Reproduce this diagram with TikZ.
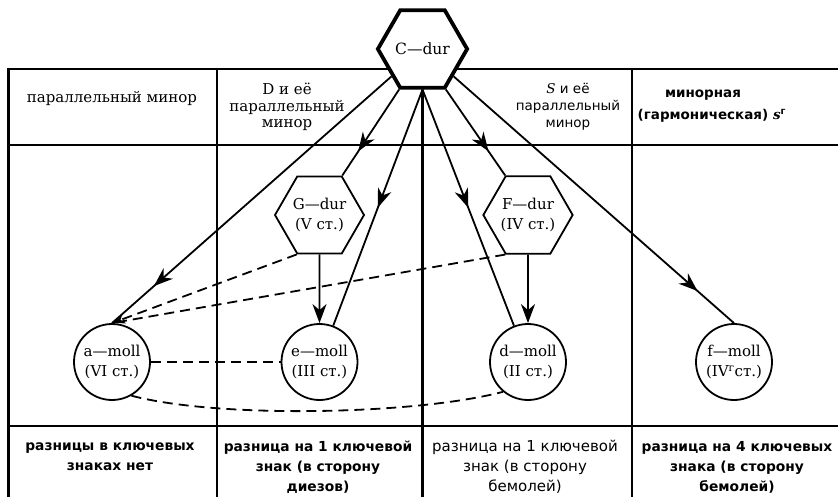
\documentclass[tikz,border=0pt]{standalone}
\usepackage{fontspec}
\setmainfont{DejaVu Serif}
\setsansfont{DejaVu Sans}
\usetikzlibrary{shapes.geometric,arrows.meta,decorations.markings}
\tikzset{
  tline/.style={line width=2.7pt},
  conn/.style={line width=1.8pt},
  dashconn/.style={line width=1.8pt, dash pattern=on 10pt off 6pt},
  bigtip/.tip={Stealth[length=19pt,width=14pt,inset=6pt]},
  smalltip/.tip={Stealth[length=13pt,width=10pt,inset=4pt]},
  midarrow/.style={postaction={decorate}, decoration={markings, mark=at position #1 with {\arrow{bigtip}}}},
  keytext/.style={font=\fontsize{15}{20}\selectfont, align=center},
  hexbig/.style={regular polygon, regular polygon sides=6, minimum size=84pt, inner sep=0pt, draw, line width=3.8pt, fill=white, font=\fontsize{15.5}{18}\selectfont},
  hexsmall/.style={regular polygon, regular polygon sides=6, minimum size=89pt, inner sep=0pt, draw, line width=1.8pt, fill=white, keytext},
  keycircle/.style={circle, minimum size=76pt, inner sep=0pt, draw, line width=1.8pt, fill=white, keytext},
  headserif/.style={font=\fontsize{15}{16.5}\selectfont, align=center, inner sep=0pt},
  headsans/.style={font=\sffamily\fontsize{13.5}{17}\selectfont, align=center, inner sep=0pt},
  headsansb/.style={font=\sffamily\bfseries\fontsize{13.5}{22}\selectfont, align=center, inner sep=0pt},
  footb/.style={font=\sffamily\bfseries\fontsize{13.8}{20}\selectfont, align=center, inner sep=0pt},
  foot/.style={font=\sffamily\fontsize{15}{20}\selectfont, align=center, inner sep=0pt},
}
\begin{document}
\begin{tikzpicture}[x=1pt,y=-1pt]
\useasboundingbox (0,0) rectangle (838,497);
% table
\draw[tline] (838,69) -- (8.5,69) -- (8.5,497);
\draw[tline] (8.5,145) -- (838,145);
\draw[tline] (8.5,426) -- (838,426);
\draw[tline] (217,69) -- (217,497);
\draw[tline] (632,69) -- (632,497);
% key nodes
\node[hexbig] (C) at (422.5,49) {C—dur};
\coordinate (Cbottom) at (422.5,497);
\draw[tline] (C.south) -- (Cbottom);
\node[hexsmall] (G) at (319.5,215) {G—dur\\(V ст.)};
\node[hexsmall] (F) at (528,215) {F—dur\\(IV ст.)};
\node[keycircle] (a) at (112,362) {a—moll\\(VI ст.)};
\node[keycircle] (e) at (319.5,362) {e—moll\\(III ст.)};
\node[keycircle] (d) at (528,362) {d—moll\\(II ст.)};
\node[keycircle] (f) at (734,362) {f—moll\\(IV\textsuperscript{г}ст.)};
% headers
\node[headserif] (h1) at (112,98) {параллельный минор};
\node[headserif] (h2) at (287,107) {D и её\\параллельный\\минор};
\node[headsans] (h3) at (568,107) {{\rmfamily\itshape S} и её\\параллельный\\минор};
\node[headsansb] (h4) at (703,106) {минорная\\(гармоническая)\rlap{ {\rmfamily\bfseries\itshape s}\textsuperscript{г}}};
% footers
\node[footb] (b1) at (110,457) {разницы в ключевых\\знаках нет};
\node[footb] (b2) at (318,467) {разница на 1 ключевой\\знак (в сторону\\диезов)};
\node[foot] (b3) at (525,467) {разница на 1 ключевой\\знак (в сторону\\бемолей)};
\node[footb] (b4) at (737,467) {разница на 4 ключевых\\знака (в сторону\\бемолей)};
% connectors
\draw[conn, midarrow=0.85] (C) -- (a.north);
\draw[conn, midarrow=0.72] (C.-120) -- (G.60);
\draw[conn, midarrow=0.5] (C.-90) -- (e);
\draw[conn, midarrow=0.5] (C.-90) -- (d);
\draw[conn, midarrow=0.72] (C.-60) -- (F.120);
\draw[conn, midarrow=0.87] (C) -- (f.north);
\draw[conn, -{bigtip}] (G) -- (e);
\draw[conn, -{bigtip}] (F) -- (d);
\draw[dashconn, -{smalltip}] (G.-120) -- (a.north);
\draw[dashconn] (F.-120) -- (a.north);
\draw[dashconn] (a) -- (e);
\draw[dashconn] (a.-60) .. controls +(87,23) and +(-87,23) .. (d.-130);
\end{tikzpicture}
\end{document}
